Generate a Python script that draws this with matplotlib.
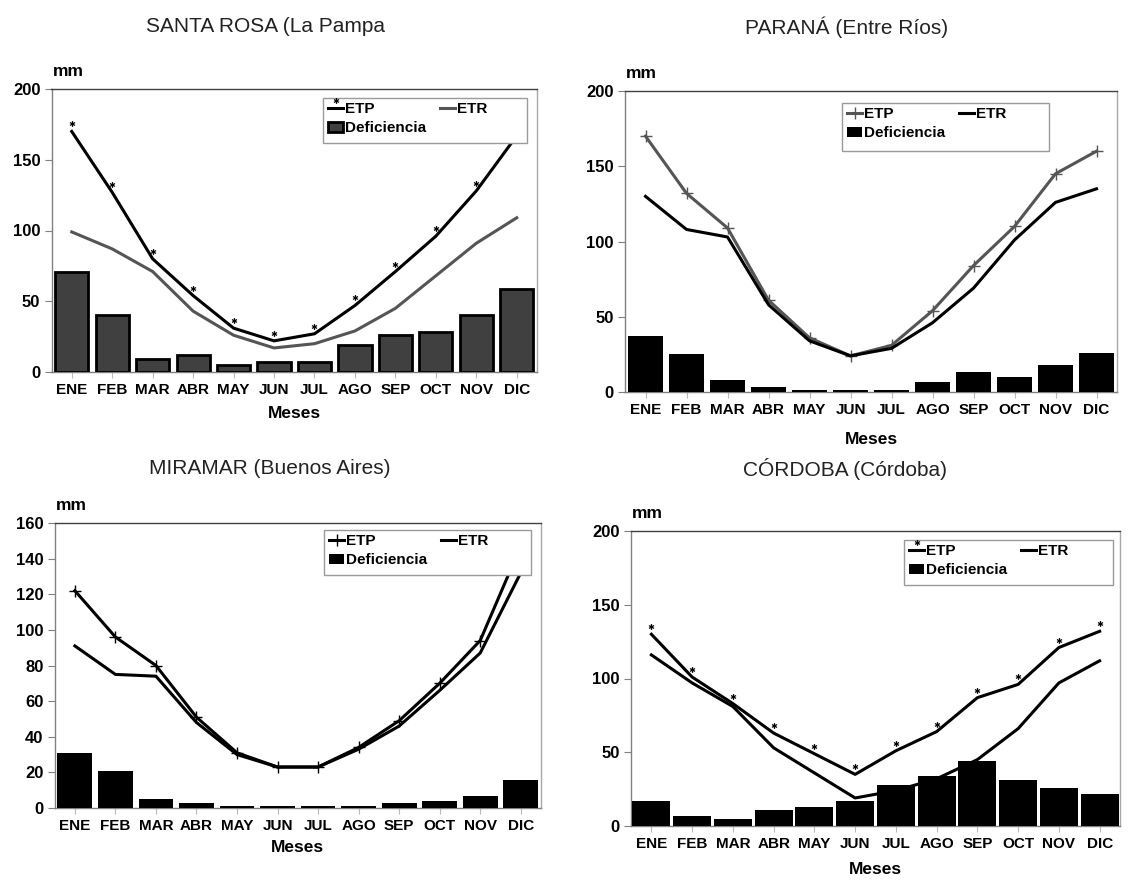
import numpy as np
import matplotlib
matplotlib.use("Agg")
import matplotlib.pyplot as plt
from matplotlib.path import Path
from matplotlib.patches import Rectangle

W, H = 1131, 881

months = ['ENE', 'FEB', 'MAR', 'ABR', 'MAY', 'JUN', 'JUL', 'AGO', 'SEP', 'OCT', 'NOV', 'DIC']

santa_rosa_etp = [170, 127, 80, 54, 31, 22, 27, 47, 71, 96, 128, 167]
santa_rosa_etr = [99, 87, 71, 43, 26, 17, 20, 29, 45, 68, 91, 109]
santa_rosa_def = [71, 40, 9, 12, 5, 7, 7, 19, 26, 28, 40, 59]

parana_etp = [170, 132, 109, 61, 36, 24, 31, 54, 84, 110, 145, 160]
parana_etr = [130, 108, 103, 58, 34, 24, 29, 46, 69, 101, 126, 135]
parana_def = [37, 25, 8, 3, 1.5, 1.5, 1.5, 6.5, 13, 10, 18, 26]

miramar_etp = [122, 96, 80, 51, 31, 23, 23, 34, 49, 70, 94, 147]
miramar_etr = [91, 75, 74, 48, 30, 23, 23, 33, 46, 66, 87, 132]
miramar_def = [31, 21, 5, 3, 1, 1, 1, 1, 3, 4, 7, 16]

cordoba_etp = [130, 101, 83, 63, 49, 35, 51, 64, 87, 96, 121, 132]
cordoba_etr = [116, 97, 81, 53, 36, 19, 24, 32, 45, 66, 97, 112]
cordoba_def = [17, 7, 5, 11, 13, 17, 28, 34, 44, 31, 26, 22]

BOLD = ['Liberation Sans Narrow', 'Liberation Sans', 'DejaVu Sans']
plt.rcParams['font.family'] = ['Liberation Sans', 'DejaVu Sans']

# asterisk drawn above the point (like the Excel marker)
c, r = 1.3, 0.5
verts, codes = [], []
for ang in (90, 30, 150):
    a = np.deg2rad(ang)
    verts += [(r * np.cos(a), c + r * np.sin(a)), (-r * np.cos(a), c - r * np.sin(a))]
    codes += [Path.MOVETO, Path.LINETO]
ASTER = Path(verts, codes)


def fx(x):
    return x / W


def fy(y):
    return 1 - y / H


def panel(fig, box, title, title_xy, etp, etr, deficit, ymax, ystep,
          etp_style, etr_style, bar_style, bar_width, leg_box, meses_y):
    l, t, r_, b = box
    ax = fig.add_axes([fx(l), fy(b), (r_ - l) / W, (b - t) / H])
    x = np.arange(len(months))

    h_etp, = ax.plot(x, etp, zorder=2, label='ETP', **etp_style)
    h_etr, = ax.plot(x, etr, zorder=2, label='ETR', **etr_style)
    h_def = ax.bar(x, deficit, width=bar_width, zorder=3, label='Deficiencia', **bar_style)

    ax.set_xlim(-0.5, 11.5)
    ax.set_ylim(0, ymax)
    ax.set_yticks(np.arange(0, ymax + 1, ystep))
    ax.set_xticks(x)
    ax.set_xticklabels(months)
    ax.set_xticks([0], minor=True)
    ax.tick_params(axis='x', which='major', length=4, color='#b8b8b8', pad=4)
    ax.tick_params(axis='x', which='minor', length=6, color='black', width=1)
    ax.tick_params(axis='y', length=5, color='#808080', pad=3)
    for lab in ax.get_xticklabels():
        lab.set_family(BOLD)
        lab.set_fontweight('bold')
        lab.set_fontsize(11)
    for lab in ax.get_yticklabels():
        lab.set_family(BOLD)
        lab.set_fontweight('bold')
        lab.set_fontsize(12)

    for side, col in (('left', '#808080'), ('bottom', '#808080'),
                      ('top', '#404040'), ('right', '#a8a8a8')):
        ax.spines[side].set_color(col)
        ax.spines[side].set_linewidth(1)

    # legend frame and legend
    lx0, ly0, lx1, ly1 = leg_box
    fig.patches.append(Rectangle((fx(lx0), fy(ly1)), (lx1 - lx0) / W, (ly1 - ly0) / H,
                                 transform=fig.transFigure, facecolor='white',
                                 edgecolor='#9a9a9a', linewidth=1, zorder=4))
    ax.set_zorder(1)
    leg = fig.legend([h_etp, h_def, h_etr], ['ETP', 'Deficiencia', 'ETR'], ncol=2,
                     frameon=False, loc='upper left',
                     bbox_to_anchor=(fx(lx0 + 2), fy(ly0 + 1)),
                     borderaxespad=0, borderpad=0.2, handlelength=1.0,
                     handletextpad=0.1, columnspacing=0.9, labelspacing=0.35,
                     prop={'family': BOLD, 'weight': 'bold', 'size': 11})
    leg.set_zorder(5)

    fig.text(fx(l + 1), fy(t - 18), 'mm', ha='left', va='center',
             family=BOLD, fontweight='bold', fontsize=12.5)
    fig.text(fx(title_xy[0]), fy(title_xy[1]), title, ha='center', va='center',
             fontsize=15, color='#222222')
    fig.text(fx((l + r_) / 2), fy(meses_y), 'Meses', ha='center', va='center',
             family=BOLD, fontweight='bold', fontsize=12.5)
    return ax


fig = plt.figure(figsize=(W / 100, H / 100), dpi=100)

black_aster = dict(color='black', lw=2.2, marker=ASTER, ms=15, mew=0.9,
                   mec='black', mfc='none')
black_plus = dict(color='black', lw=2.2, marker='+', ms=9, mew=1.0, mec='black')
gray_plus = dict(color='#555555', lw=2.2, marker='+', ms=9, mew=1.0, mec='#555555')
black_line = dict(color='black', lw=2.2)
gray_line = dict(color='#555555', lw=2.2)

panel(fig, (51.5, 89, 537, 372), 'SANTA ROSA (La Pampa', (266, 27),
      santa_rosa_etp, santa_rosa_etr, santa_rosa_def, 200, 50,
      black_aster, gray_line,
      dict(color='#404040', edgecolor='black', linewidth=2), 0.82,
      (323, 98, 527, 143), 414)

panel(fig, (625, 91, 1117, 392), 'PARANÁ (Entre Ríos)', (847, 27),
      parana_etp, parana_etr, parana_def, 200, 50,
      gray_plus, black_line, dict(color='black'), 0.87,
      (842, 103, 1049, 151), 440)

panel(fig, (54.6, 523, 541, 808), 'MIRAMAR (Buenos Aires)', (270, 469),
      miramar_etp, miramar_etr, miramar_def, 160, 20,
      black_plus, black_line, dict(color='black'), 0.86,
      (324, 530, 531, 575), 848)

panel(fig, (631, 531, 1120, 826), 'CÓRDOBA (Córdoba)', (845, 469),
      cordoba_etp, cordoba_etr, cordoba_def, 200, 50,
      black_aster, black_line, dict(color='black'), 0.93,
      (904, 540, 1113, 585), 870)

fig.savefig('out.png', dpi=100)
